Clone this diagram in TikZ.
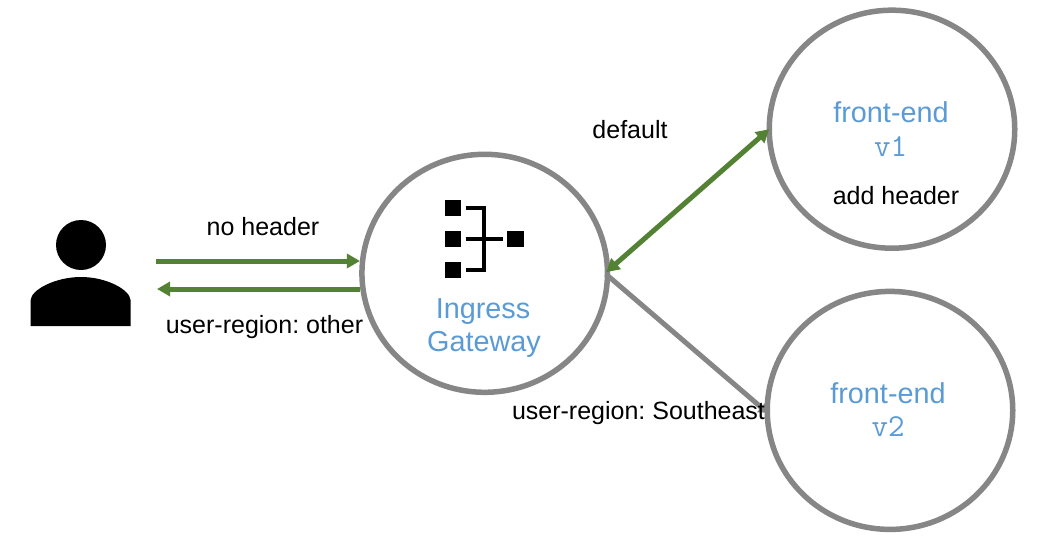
\documentclass[tikz,border=0pt]{standalone}
\usepackage{fontspec}
\setmainfont{Liberation Sans}
\usetikzlibrary{arrows.meta,shapes.geometric}
\definecolor{ringgray}{HTML}{868686}
\definecolor{flowgreen}{HTML}{548235}
\definecolor{labelblue}{HTML}{5B9BD5}
\tikzset{
  x=1pt,y=-1pt,
  ring/.style={ellipse,draw=ringgray,line width=5.5pt,minimum width=245.5pt,minimum height=238pt,inner sep=0pt,outer sep=0pt,fill=white},
  flow/.style={draw=flowgreen,line width=5pt},
  tipg/.style={-{Triangle[length=13pt,width=14pt]}},
  tipboth/.style={{Triangle[length=13pt,width=14pt]}-{Triangle[length=13pt,width=14pt]}},
  grayflow/.style={draw=ringgray,line width=5pt,-{Triangle[length=8pt,width=13pt]}},
  bluelabel/.style={text=labelblue,font=\fontsize{28.8}{32}\selectfont,inner sep=0pt},
  bluemono/.style={text=labelblue,font=\ttfamily\fontsize{32}{34}\selectfont,inner sep=0pt},
  blacklabel/.style={text=black,font=\frenchspacing\fontsize{25}{30}\selectfont,inner sep=0pt},
  iconbox/.style={fill=black,draw=none,minimum size=16.5pt,inner sep=0pt,outer sep=0pt},
  iconline/.style={draw=black,line width=4pt},
}
\begin{document}
\begin{tikzpicture}
\useasboundingbox (0,0) rectangle (1041,543);
\fill[white] (0,0) rectangle (1041,543);
% circles
\node[ring] (gw) at (484.7,273.3) {};
\node[ring] (vone) at (892,129.2) {};
\node[ring] (vtwo) at (890,410.4) {};
% person
\fill[black] (81,245) circle (25);
\fill[black] (30.7,326) -- (30.7,300) .. controls (31,290) and (55,277) .. (81,277)
  .. controls (107,277) and (130,290) .. (130.5,300) -- (130.5,326) -- cycle;
\coordinate (userout) at (156,261);
\coordinate (userin) at (157,289);
% gateway icon
\node[iconbox] (ba) at (453,208) {};
\node[iconbox] (bb) at (453,239) {};
\node[iconbox] (bc) at (453,270) {};
\node[iconbox] (bd) at (515.5,239) {};
\draw[iconline] (465.7,208) -- (484,208) -- (484,270) -- (465.7,270);
\draw[iconline] (465.7,239) -- (503,239);
% connectors
\draw[flow,tipg,shorten >=2pt] (userout) -- (gw.west |- userout);
\draw[flow,tipg,shorten <=2pt] (gw.west |- userin) -- (userin);
\draw[flow,tipboth,shorten <=-1.5pt] (gw.1) -- (vone.180);
\draw[grayflow,shorten <=-2pt] (gw.359) -- (vtwo.181);
% labels
\node[bluelabel] (gwa) at (483,312) {Ingress};
\node[bluelabel] (gwb) at (484,344) {Gateway};
\node[bluelabel] (oa) at (891,112) {front-end};
\node[bluemono] (ob) at (890.5,147) {v1};
\node[bluelabel] (ta) at (888,393) {front-end};
\node[bluemono] (tb) at (888,427) {v2};
\node[blacklabel] (la) at (630,130) {default};
\node[blacklabel] (lb) at (896,196) {add header};
\node[blacklabel] (lc) at (263,227) {no header};
\node[blacklabel] (ld) at (264.5,327) {user-region: other};
\node[blacklabel] (le) at (638.5,413) {user-region: Southeast};
\end{tikzpicture}
\end{document}
